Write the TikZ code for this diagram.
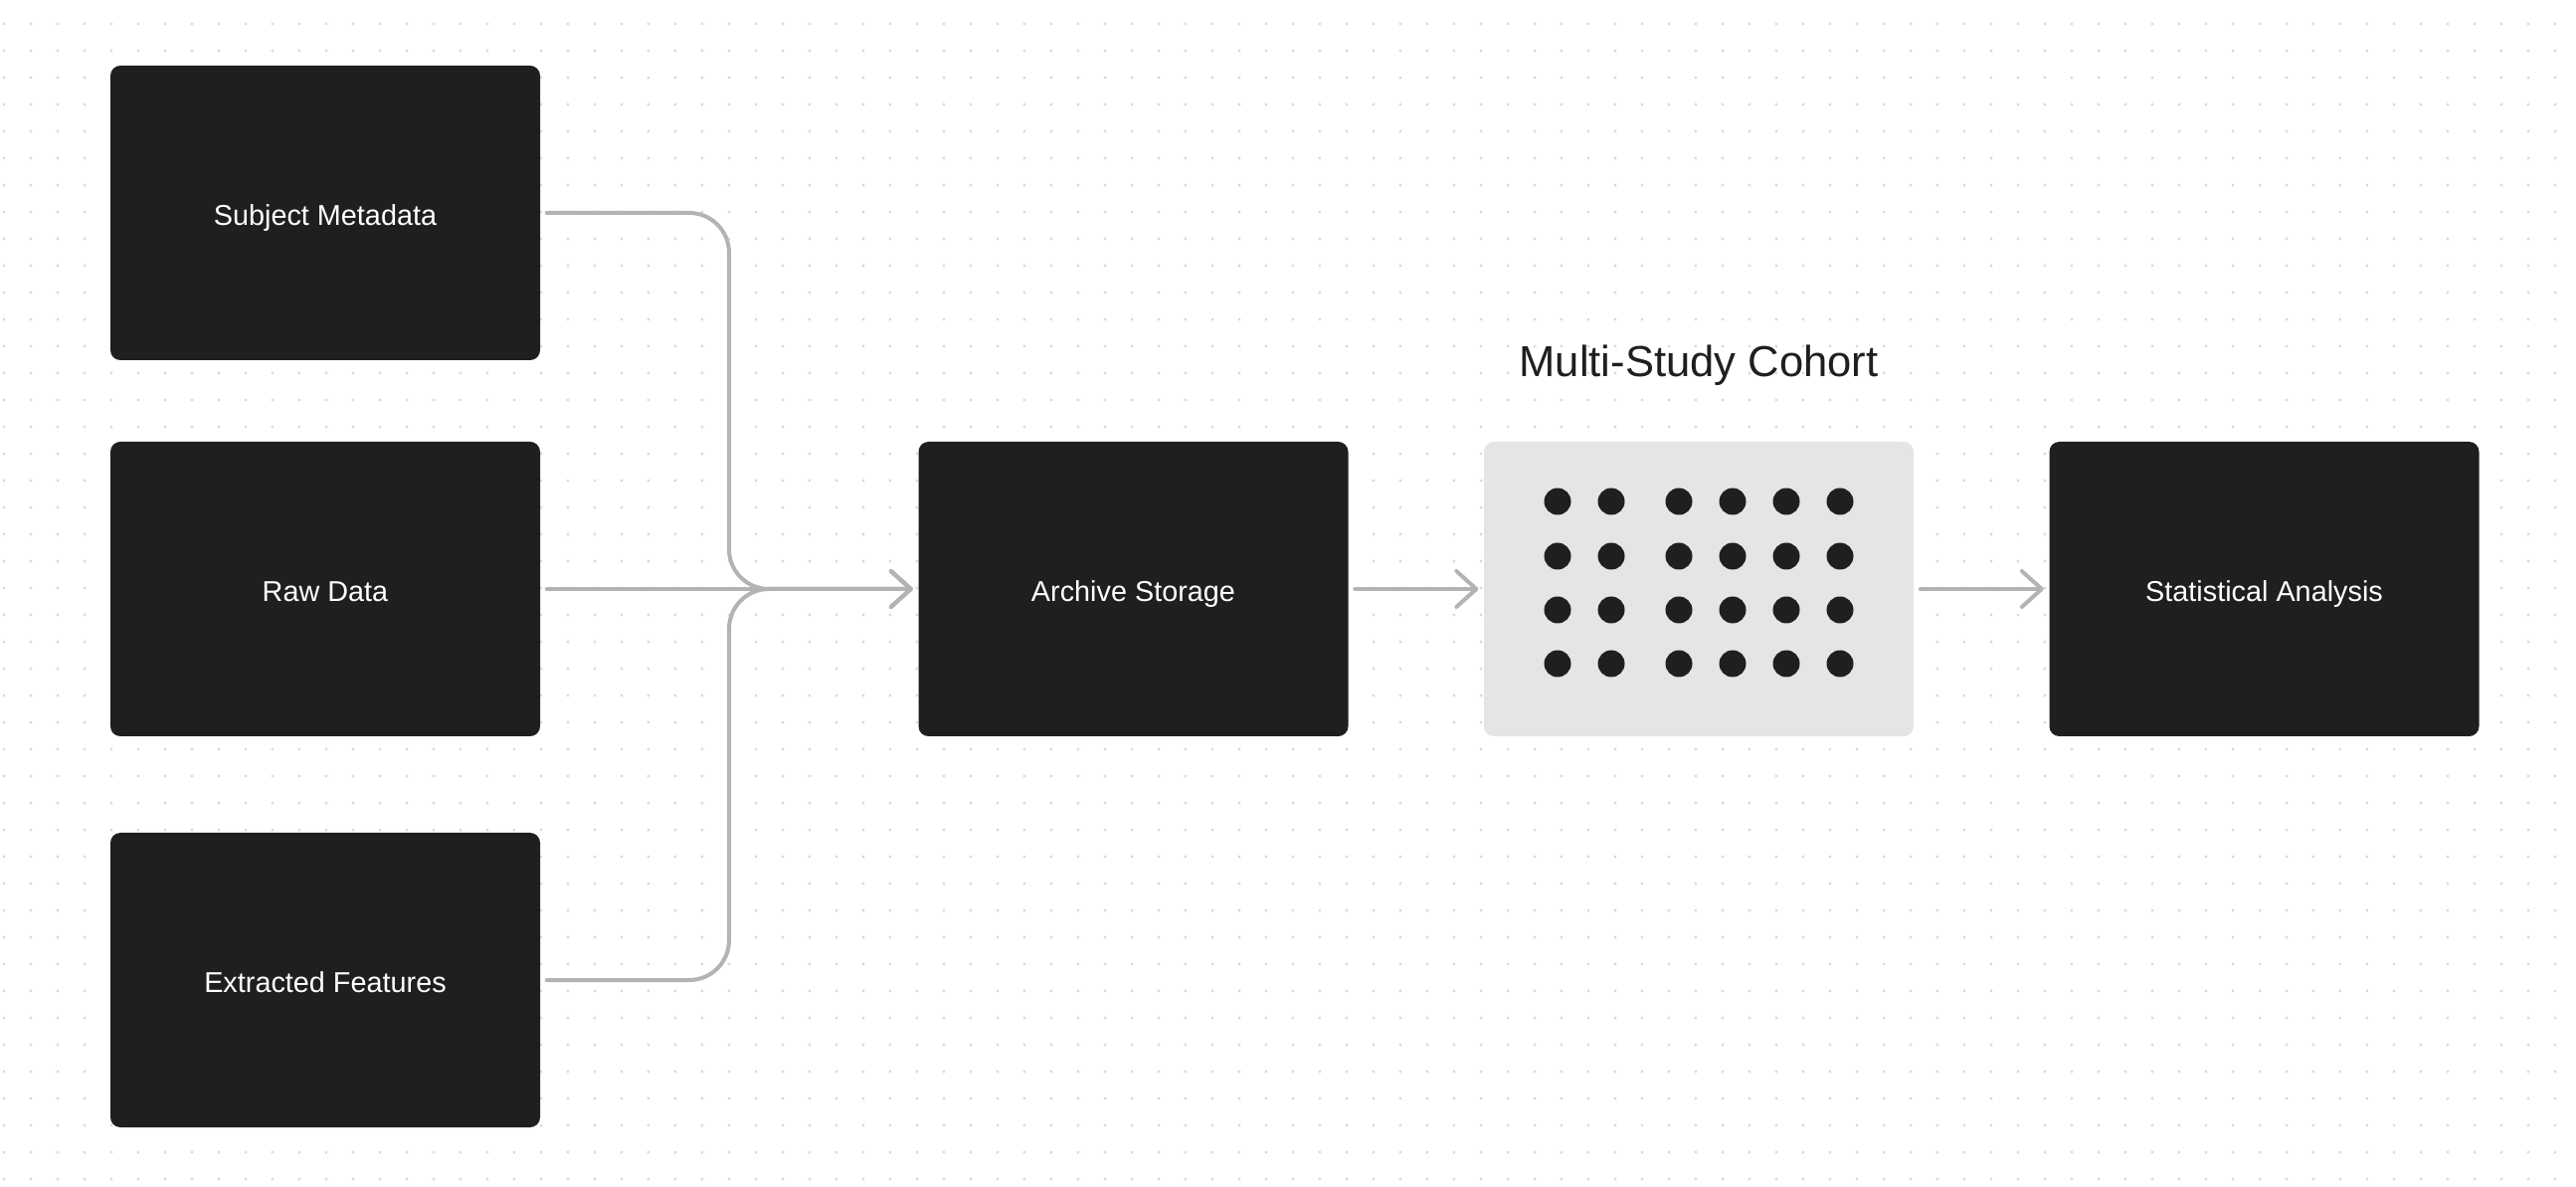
\documentclass[tikz,border=0pt]{standalone}
\usepackage{fontspec}
\setmainfont{Liberation Sans}
\usepackage{tikz}
\usetikzlibrary{arrows.meta, positioning}
\definecolor{boxDark}{HTML}{1F1F1F}
\definecolor{linkGray}{HTML}{B3B3B3}
\definecolor{cohortFill}{HTML}{E5E5E5}
\definecolor{gridDot}{HTML}{D9D9D9}

\begin{document}
\begin{tikzpicture}[
    stage/.style={fill=boxDark, rounded corners=0.1cm, minimum width=4.32cm, minimum height=2.96cm,
      text=white, font=\fontsize{8.2}{10}\selectfont, text height=0.716em, text depth=0pt},
    link/.style={draw=linkGray, line width=0.04cm, line cap=round, line join=round,
      shorten <=0.06cm, shorten >=0.05cm, -{Straight Barb[length=0.2cm, width=0.36cm, round]}},
    member/.style={fill=boxDark}]
    \fill[white] (0,0) rectangle (25.9,11.92);
    \useasboundingbox (0,0) rectangle (25.9,11.92);
    \foreach \i in {0,...,95}
      \foreach \j in {0,...,43}
        \fill[gridDot] (0.04+0.27*\i, 11.68-0.27*\j) circle (0.016);

    \node[stage] (meta) at (3.27,9.78) {Subject Metadata};
    \node[stage] (raw) at (3.27,6.00) {Raw Data};
    \node[stage] (feat) at (3.27,2.07) {Extracted Features};
    \node[stage] (archive) at (11.395,6.00) {Archive Storage};
    \node[fill=cohortFill, rounded corners=0.1cm, minimum width=4.32cm, minimum height=2.96cm]
      (cohort) at (17.08,6.00) {};
    \node[stage] (stats) at (22.765,6.00) {Statistical Analysis};
    \node[anchor=base, inner sep=0, text=boxDark, font=\fontsize{12.4}{15}\selectfont]
      (cohortlabel) at ([yshift=6.5mm]cohort.north) {Multi-Study Cohort};

    \foreach \x in {-1.42,-0.88,-0.20,0.34,0.88,1.42}
      \foreach \y in {0.88,0.33,-0.21,-0.75}
        \fill[member] ([shift={(\x,\y)}]cohort.center) circle (0.135);

    \coordinate (join) at (7.33,6.00);
    \draw[link, rounded corners=0.4cm] (meta.east) -| (join) -- (archive.west);
    \draw[link, rounded corners=0.4cm] (feat.east) -| (join) -- (archive.west);
    \draw[link] (raw.east) -- (archive.west);
    \draw[link] (archive.east) -- (cohort.west);
    \draw[link] (cohort.east) -- (stats.west);
\end{tikzpicture}
\end{document}
